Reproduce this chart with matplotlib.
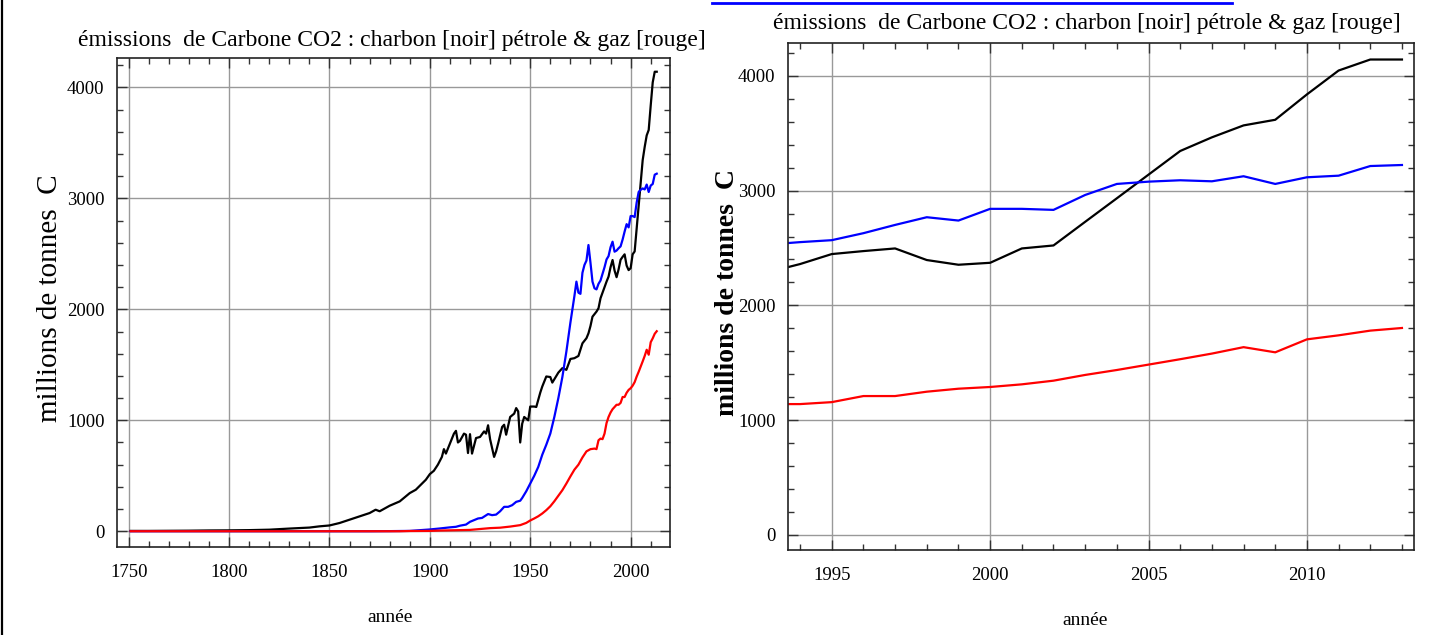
import matplotlib.pyplot as plt
from matplotlib.ticker import MultipleLocator
from matplotlib.lines import Line2D

plt.rcParams['font.family'] = ['Liberation Serif', 'DejaVu Serif']

# charbon (noir), 1751-2013, millions de tonnes de carbone
coal_years = [1751, 1760, 1770, 1780, 1790, 1800, 1810, 1820, 1830, 1840, 1845,
              1850, 1855, 1860, 1865, 1870, 1873, 1875, 1880, 1885, 1890, 1893, 1898,
              1900, 1902, 1904, 1906, 1907, 1908, 1910, 1912, 1913, 1914, 1915, 1917,
              1918, 1919, 1920, 1921, 1922, 1923, 1925, 1927, 1928, 1929, 1930, 1932,
              1933, 1934, 1936, 1937, 1938, 1940, 1942, 1943, 1944, 1945, 1946, 1947,
              1949, 1950, 1952, 1953, 1955, 1956, 1958, 1960, 1961, 1963, 1964, 1966,
              1968, 1970, 1972, 1974, 1976, 1978, 1979, 1980, 1981, 1983, 1984, 1985,
              1986, 1988, 1989, 1990, 1991, 1992, 1993,
              1994, 1995, 1996, 1997, 1998, 1999, 2000, 2001, 2002, 2003, 2004, 2005,
              2006, 2007, 2008, 2009, 2010, 2011, 2012, 2013]
coal = [3, 3, 4, 5, 7, 8, 10, 14, 24, 33, 44,
        52, 74, 104, 134, 164, 194, 180, 230, 269, 344, 374, 464,
        515, 545, 600, 670, 740, 700, 790, 880, 905, 800, 815, 880,
        870, 705, 875, 700, 770, 840, 850, 900, 880, 955, 830, 670,
        720, 790, 940, 960, 870, 1030, 1060, 1110, 1080, 800, 970, 1030,
        1000, 1124, 1124, 1120, 1250, 1305, 1395, 1390, 1340, 1400, 1430, 1470,
        1455, 1553, 1560, 1580, 1694, 1740, 1784, 1850, 1934, 1980, 2010, 2100,
        2150, 2250, 2295, 2380, 2445, 2350, 2290,
        2360, 2447, 2473, 2496, 2395, 2354, 2371, 2496, 2522, 2728, 2933, 3139,
        3345, 3464, 3568, 3617, 3838, 4046, 4142, 4142]

# pétrole (bleu)
oil_years = [1751, 1870, 1880, 1890, 1900, 1905, 1910, 1913, 1915, 1918, 1920, 1922,
             1924, 1926, 1929, 1931, 1933, 1935, 1937, 1939, 1941, 1943, 1945, 1946,
             1948, 1950, 1952, 1954, 1956, 1958, 1960, 1962, 1964, 1966, 1968, 1970,
             1971, 1972, 1973, 1974, 1975, 1976, 1977, 1978, 1979, 1980, 1981, 1982,
             1983, 1984, 1985, 1986, 1987, 1988, 1989, 1990, 1991, 1992, 1993,
             1994, 1995, 1996, 1997, 1998, 1999, 2000, 2001, 2002, 2003, 2004, 2005,
             2006, 2007, 2008, 2009, 2010, 2011, 2012, 2013]
oil = [0, 0, 1, 3, 16, 25, 35, 40, 50, 60, 85, 100,
       115, 120, 155, 145, 150, 180, 220, 220, 235, 265, 275, 300,
       360, 430, 500, 580, 690, 780, 880, 1030, 1200, 1390, 1620, 1880,
       2000, 2120, 2250, 2150, 2140, 2330, 2400, 2440, 2580, 2420, 2250, 2190,
       2180, 2230, 2260, 2320, 2380, 2450, 2480, 2560, 2610, 2520, 2530,
       2551, 2568, 2629, 2701, 2768, 2739, 2841, 2841, 2832, 2962, 3058, 3078,
       3090, 3081, 3125, 3058, 3116, 3130, 3214, 3223]

# gaz (rouge)
gas_years = [1751, 1885, 1890, 1900, 1905, 1910, 1915, 1920, 1925, 1930, 1935, 1940,
             1945, 1948, 1950, 1952, 1954, 1956, 1958, 1960, 1962, 1964, 1966, 1968,
             1970, 1972, 1974, 1976, 1978, 1980, 1982, 1983, 1984, 1985, 1986, 1987,
             1988, 1989, 1990, 1991, 1992, 1993,
             1994, 1995, 1996, 1997, 1998, 1999, 2000, 2001, 2002, 2003, 2004, 2005,
             2006, 2007, 2008, 2009, 2010, 2011, 2012, 2013]
gas = [0, 0, 2, 3, 6, 8, 10, 12, 20, 28, 32, 42,
       55, 75, 97, 115, 135, 160, 190, 225, 270, 320, 370, 430,
       494, 555, 600, 665, 720, 740, 745, 740, 820, 835, 830, 880,
       975, 1030, 1070, 1100, 1120, 1140,
       1140, 1157, 1210, 1210, 1248, 1274, 1289, 1312, 1344, 1394, 1437, 1484,
       1531, 1580, 1636, 1591, 1704, 1739, 1780, 1803]

title = "émissions  de Carbone CO2 : charbon [noir] pétrole & gaz [rouge]"
ylab = "millions de tonnes  C"

fig = plt.figure(figsize=(14.43, 6.35), dpi=100)
ax1 = fig.add_axes([0.0811, 0.1386, 0.3832, 0.7701])
ax2 = fig.add_axes([0.5461, 0.1339, 0.4338, 0.7984])


def style(ax, xmaj, xmin, xlim, ylim):
    ax.set_xlim(*xlim)
    ax.set_ylim(*ylim)
    ax.xaxis.set_major_locator(MultipleLocator(xmaj))
    ax.xaxis.set_minor_locator(MultipleLocator(xmin))
    ax.yaxis.set_major_locator(MultipleLocator(1000))
    ax.yaxis.set_minor_locator(MultipleLocator(200))
    ax.grid(True, which='major', color='#999999', lw=1.0)
    ax.set_axisbelow(True)
    ax.tick_params(which='both', direction='in', top=True, right=True,
                   color='#333333', width=1.0, labelsize=13.5)
    ax.tick_params(which='major', length=7)
    ax.tick_params(which='minor', length=4)
    ax.tick_params(axis='x', pad=12)
    ax.tick_params(axis='y', pad=9)
    for s in ax.spines.values():
        s.set_color('#222222')
        s.set_linewidth(1.2)


for ax in (ax1, ax2):
    ax.plot(coal_years, coal, color='black', lw=1.6)
    ax.plot(oil_years, oil, color='blue', lw=1.6)
    ax.plot(gas_years, gas, color='red', lw=1.6)

style(ax1, 50, 10, (1744.2, 2019.6), (-142, 4266))
style(ax2, 5, 1, (1993.62, 2013.38), (-131, 4286))

fig.text(0.2717, 0.937, title, ha='center', va='center', fontsize=17)
fig.text(0.7533, 0.963, title, ha='center', va='center', fontsize=17)
fig.text(0.0347, 0.531, ylab, rotation=90, ha='center', va='center', fontsize=21)
fig.text(0.5045, 0.540, ylab, rotation=90, ha='center', va='center', fontsize=20,
         fontweight='bold')
fig.text(0.2703, 0.0283, "année", ha='center', va='center', fontsize=14)
fig.text(0.7519, 0.0236, "année", ha='center', va='center', fontsize=14)

# bordure gauche et lien souligné en haut de la page
fig.add_artist(Line2D([0.0017, 0.0017], [0, 1], color='black', lw=1.6))
fig.add_artist(Line2D([712 / 1443, 1232 / 1443], [0.995, 0.995], color='blue', lw=2))

fig.savefig("out.png", dpi=100)
